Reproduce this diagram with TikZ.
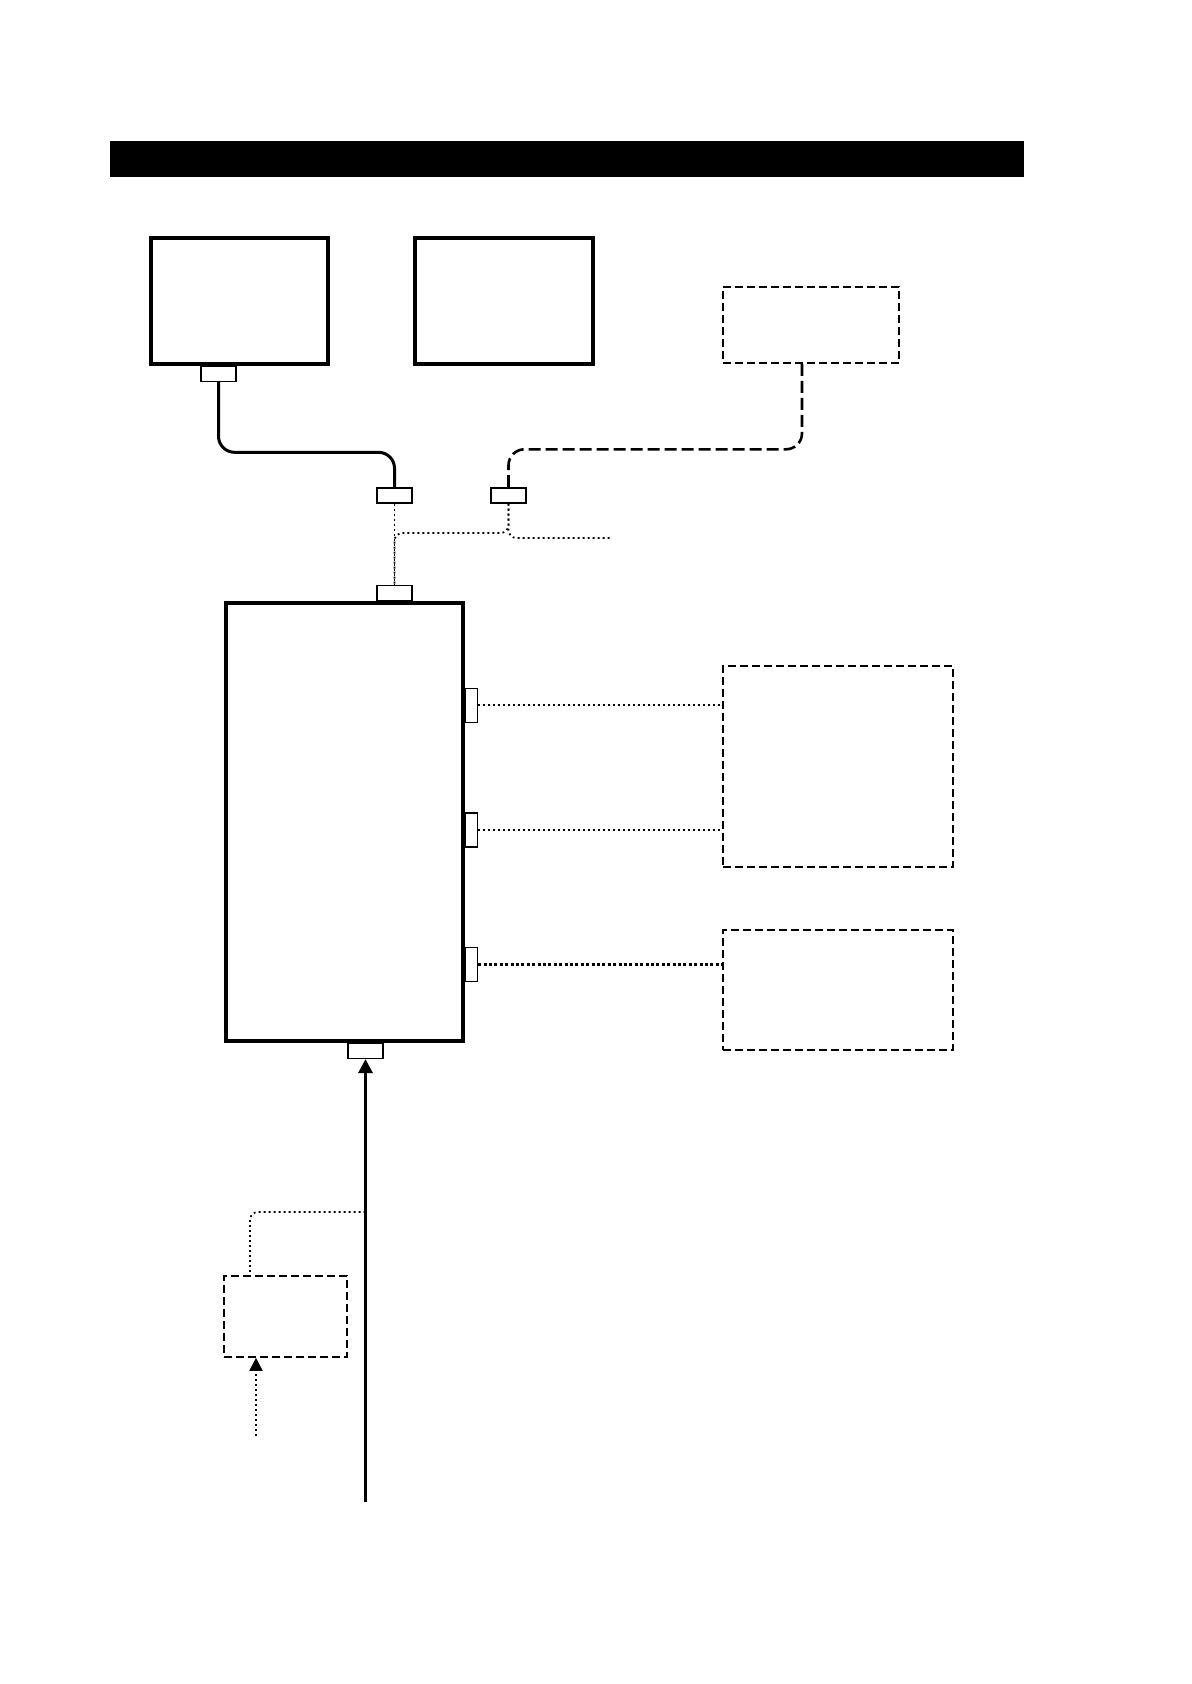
\documentclass[tikz,border=0pt]{standalone}
\usepackage{tikz}
\usetikzlibrary{arrows.meta, positioning, calc}
\tikzset{
  unit/.style={rectangle, draw, line width=1.7pt, inner sep=0pt, fill=white},
  option/.style={rectangle, draw, line width=0.8pt, dash pattern=on 4pt off 2pt,
                 inner sep=0pt, fill=white},
  plug/.style={rectangle, draw, line width=0.7pt, fill=white, inner sep=0pt,
               minimum width=17.5pt, minimum height=7.5pt},
  sideplug/.style={rectangle, draw, line width=0.7pt, fill=white, inner sep=0pt,
                   minimum width=6pt, minimum height=17pt},
  cable/.style={line width=1.5pt, rounded corners=8pt},
  dashcable/.style={line width=1.3pt, dash pattern=on 6pt off 2.5pt, rounded corners=8pt},
  dotcable/.style={line width=0.9pt, dash pattern=on 0.9pt off 1.6pt, rounded corners=4pt},
  thickdot/.style={line width=1.5pt, dash pattern=on 1.5pt off 1.2pt},
  feedline/.style={line width=1.6pt, -{Triangle[length=7pt, width=7pt]}},
  dotarrow/.style={line width=0.9pt, dash pattern=on 0.9pt off 1.6pt,
                   -{Triangle[length=6.5pt, width=6.5pt]}},
}
\begin{document}
\begin{tikzpicture}[x=0.5pt, y=-0.5pt]
  \useasboundingbox (0,0) rectangle (1191,1684);
  % title bar
  \fill (110,141) rectangle (1024,177);

  % units on top
  \node[unit, minimum width=88.5pt, minimum height=63pt] (disp1) at (239.5,301) {};
  \node[unit, minimum width=89pt, minimum height=63pt] (disp2) at (504,301) {};
  \node[option, minimum width=88pt, minimum height=38pt] (opt1) at (811,325) {};

  % plugs
  \node[plug, anchor=north] (p1) at ([xshift=-10.5pt]disp1.south) {};
  \node[plug] (pA) at (394.5,495.5) {};
  \node[plug] (pB) at (508.5,495.5) {};
  \coordinate (tee) at (394.5,533);
  \coordinate (loose) at (610,538);

  % main unit
  \node[unit, minimum width=118.5pt, minimum height=219pt] (main) at (344.5,822) {};
  \node[plug, anchor=south] (pTop) at (main.north -| pA) {};
  \node[plug, anchor=north] (pBot) at ([xshift=10.5pt]main.south) {};
  \node[sideplug, anchor=west] (pR1) at ($(main.north east)+(0,104)$) {};
  \node[sideplug, anchor=west] (pR2) at ($(main.north east)+(0,228.5)$) {};
  \node[sideplug, anchor=west] (pR3) at ($(main.north east)+(0,363)$) {};

  % external units
  \node[option, minimum width=115pt, minimum height=100.5pt] (ext1) at (838,766.5) {};
  \node[option, minimum width=115pt, minimum height=60pt] (ext2) at (838,990) {};

  % cables on top
  \draw[cable] (p1.south) |- ([yshift=17.5pt]pA.north) -- (pA.north);
  \draw[dashcable] ([xshift=-4.5pt]opt1.south) |- ([yshift=19pt]pB.north) -- (pB.north);
  \draw[dotcable] (pA.south) -- (pTop.north);
  \draw[dotcable] (pB.south) |- (tee) -- (pTop.north);
  \draw[dotcable] (pB.south) |- (loose);

  % side cables
  \draw[dotcable] (pR1.east) -- (pR1.east -| ext1.west);
  \draw[dotcable] (pR2.east) -- (pR2.east -| ext1.west);
  \draw[thickdot] (pR3.east) -- (pR3.east -| ext2.west);

  % feed from below
  \coordinate (feed) at (365.5,1502);
  \coordinate (tap) at (365.5,1212);
  \coordinate (auxin) at (256,1436);
  \draw[dotcable] (tap) -| (250,1276);
  \node[option, minimum width=61.5pt, minimum height=40.5pt] (aux) at (285.5,1316.5) {};
  \draw[feedline] (feed) -- (pBot.south);
  \draw[dotarrow] (auxin) -- (auxin |- aux.south);
\end{tikzpicture}
\end{document}
